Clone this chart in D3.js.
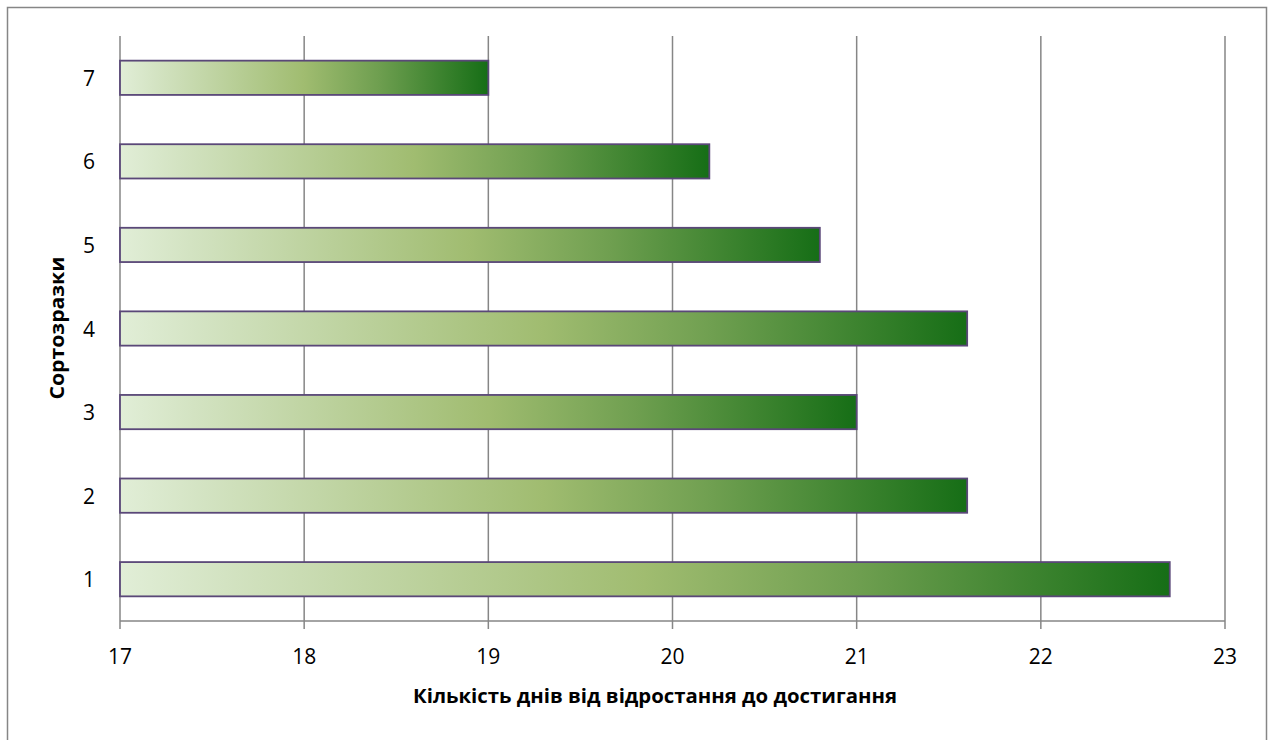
<!DOCTYPE html>
<html><head><meta charset="utf-8">
<script src="https://cdn.jsdelivr.net/npm/d3@7"></script>
<style>html,body{margin:0;padding:0;background:#fff;}svg{display:block;}</style>
</head><body>
<script>
const categories = ["1","2","3","4","5","6","7"];
const values = [22.7, 21.6, 21.0, 21.6, 20.8, 20.2, 19.0];
const xTicks = [17, 18, 19, 20, 21, 22, 23];
const xTitle = "Кількість днів від відростання до достигання";
const yTitle = "Сортозразки";

(function () {
const W = 1272, H = 740;
const svg = d3.select("body").append("svg").attr("width", W).attr("height", H);
const font = "'Open Sans', Calibri, sans-serif";

svg.append("rect").attr("x", 7.5).attr("y", 7.5).attr("width", 1259).attr("height", 760)
  .attr("fill", "#fff").attr("stroke", "#868686").attr("stroke-width", 1.5);

const pl = 120, pr = 1225, pt = 36, pb = 621;
const x = d3.scaleLinear().domain([17, 23]).range([pl, pr]);
const y = d3.scaleBand().domain(categories.slice().reverse()).range([pt, pb]).paddingInner(0.59).paddingOuter(0.295);

const defs = svg.append("defs");
const grad = defs.append("linearGradient").attr("id", "g").attr("x1", "0").attr("x2", "1").attr("y1", "0").attr("y2", "0");
[[0, "#e1eed7"], [0.1, "#d3e3c2"], [0.5, "#a0bc70"], [0.7, "#6f9f50"], [1, "#166e16"]].forEach(s =>
  grad.append("stop").attr("offset", s[0]).attr("stop-color", s[1]));

svg.append("g").selectAll("line").data(xTicks).join("line")
  .attr("x1", d => x(d)).attr("x2", d => x(d)).attr("y1", pt).attr("y2", pb + 8)
  .attr("stroke", "#868686").attr("stroke-width", 1.5);

svg.append("line").attr("x1", pl).attr("x2", pr).attr("y1", pb).attr("y2", pb)
  .attr("stroke", "#868686").attr("stroke-width", 1.5);

svg.append("g").selectAll("rect").data(categories).join("rect")
  .attr("x", x(17)).attr("y", d => y(d))
  .attr("width", (d, i) => x(values[i]) - x(17)).attr("height", y.bandwidth())
  .attr("fill", "url(#g)").attr("stroke", "#5a4878").attr("stroke-width", 1.8);

svg.append("g").selectAll("text").data(xTicks).join("text")
  .attr("x", d => x(d)).attr("y", 664).attr("text-anchor", "middle")
  .attr("font-family", font).attr("font-size", 21).attr("fill", "#000").text(d => d);

svg.append("g").selectAll("text").data(categories).join("text")
  .attr("x", 89).attr("y", d => y(d) + y.bandwidth() / 2 + 8).attr("text-anchor", "middle")
  .attr("font-family", font).attr("font-size", 21).attr("fill", "#000").text(d => d);

svg.append("text").attr("x", 655).attr("y", 703).attr("text-anchor", "middle")
  .attr("font-family", font).attr("font-weight", "bold").attr("font-size", 20)
  .attr("textLength", 484).attr("lengthAdjust", "spacingAndGlyphs").text(xTitle);

svg.append("text").attr("transform", "translate(64,328) rotate(-90)").attr("text-anchor", "middle")
  .attr("font-family", font).attr("font-weight", "bold").attr("font-size", 20)
  .attr("textLength", 143).attr("lengthAdjust", "spacingAndGlyphs").text(yTitle);
})();
</script>
</body></html>
